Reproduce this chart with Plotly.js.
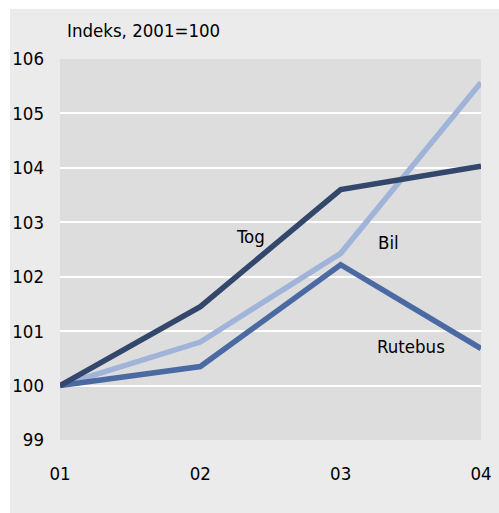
<!DOCTYPE html>
<html><head><meta charset="utf-8">
<script src="https://cdn.plot.ly/plotly-3.0.1.min.js"></script>
<style>html,body{margin:0;padding:0;background:#fff;}#chart{position:absolute;left:10px;top:9px;width:489px;height:504px;}</style>
</head><body><div id="chart"></div>
<script>
var years = ["01","02","03","04"];
var tog = [100, 101.45, 103.6, 104.03];
var bil = [100, 100.8, 102.43, 105.57];
var rutebus = [100, 100.35, 102.22, 100.68];
var yTicks = [99,100,101,102,103,104,105,106];
var FONT = "DejaVu Sans Condensed, DejaVu Sans, sans-serif";
var FS = 18.5;

var xs = [0,1,2,3];
var traces = [
  {x: xs, y: bil, mode: "lines", line: {color: "#a0b4d9", width: 5.5}, name: "Bil"},
  {x: xs, y: rutebus, mode: "lines", line: {color: "#4b69a3", width: 5.5}, name: "Rutebus"},
  {x: xs, y: tog, mode: "lines", line: {color: "#33466b", width: 5.5}, name: "Tog"}
];
var layout = {
  width: 489, height: 504,
  margin: {l: 50, r: 18, t: 50, b: 73},
  paper_bgcolor: "#ebebeb",
  plot_bgcolor: "#dddddd",
  showlegend: false,
  font: {family: FONT, size: FS, color: "#000"},
  xaxis: {range: [0,3], tickvals: xs, ticktext: years, showgrid: false, zeroline: false,
          showline: false, ticks: "", ticklabelstandoff: 20, fixedrange: true},
  yaxis: {range: [99,106], tickvals: yTicks, showgrid: true, gridcolor: "#ffffff", gridwidth: 2,
          zeroline: false, showline: false, ticks: "", ticklabelstandoff: 15, fixedrange: true},
  annotations: [
    {text: "Indeks, 2001=100", xref: "paper", yref: "paper", x: 0.012, y: 1.076, xanchor: "left", yanchor: "middle",
     showarrow: false, font: {family: FONT, size: FS}},
    {text: "Tog", xref: "x", yref: "y", x: 1.36, y: 102.74, showarrow: false, font: {family: FONT, size: FS}},
    {text: "Bil", xref: "x", yref: "y", x: 2.34, y: 102.62, showarrow: false, font: {family: FONT, size: FS}},
    {text: "Rutebus", xref: "x", yref: "y", x: 2.5, y: 100.72, showarrow: false, font: {family: FONT, size: FS}}
  ]
};
Plotly.newPlot("chart", traces, layout, {displayModeBar: false, staticPlot: true});
</script></body></html>
